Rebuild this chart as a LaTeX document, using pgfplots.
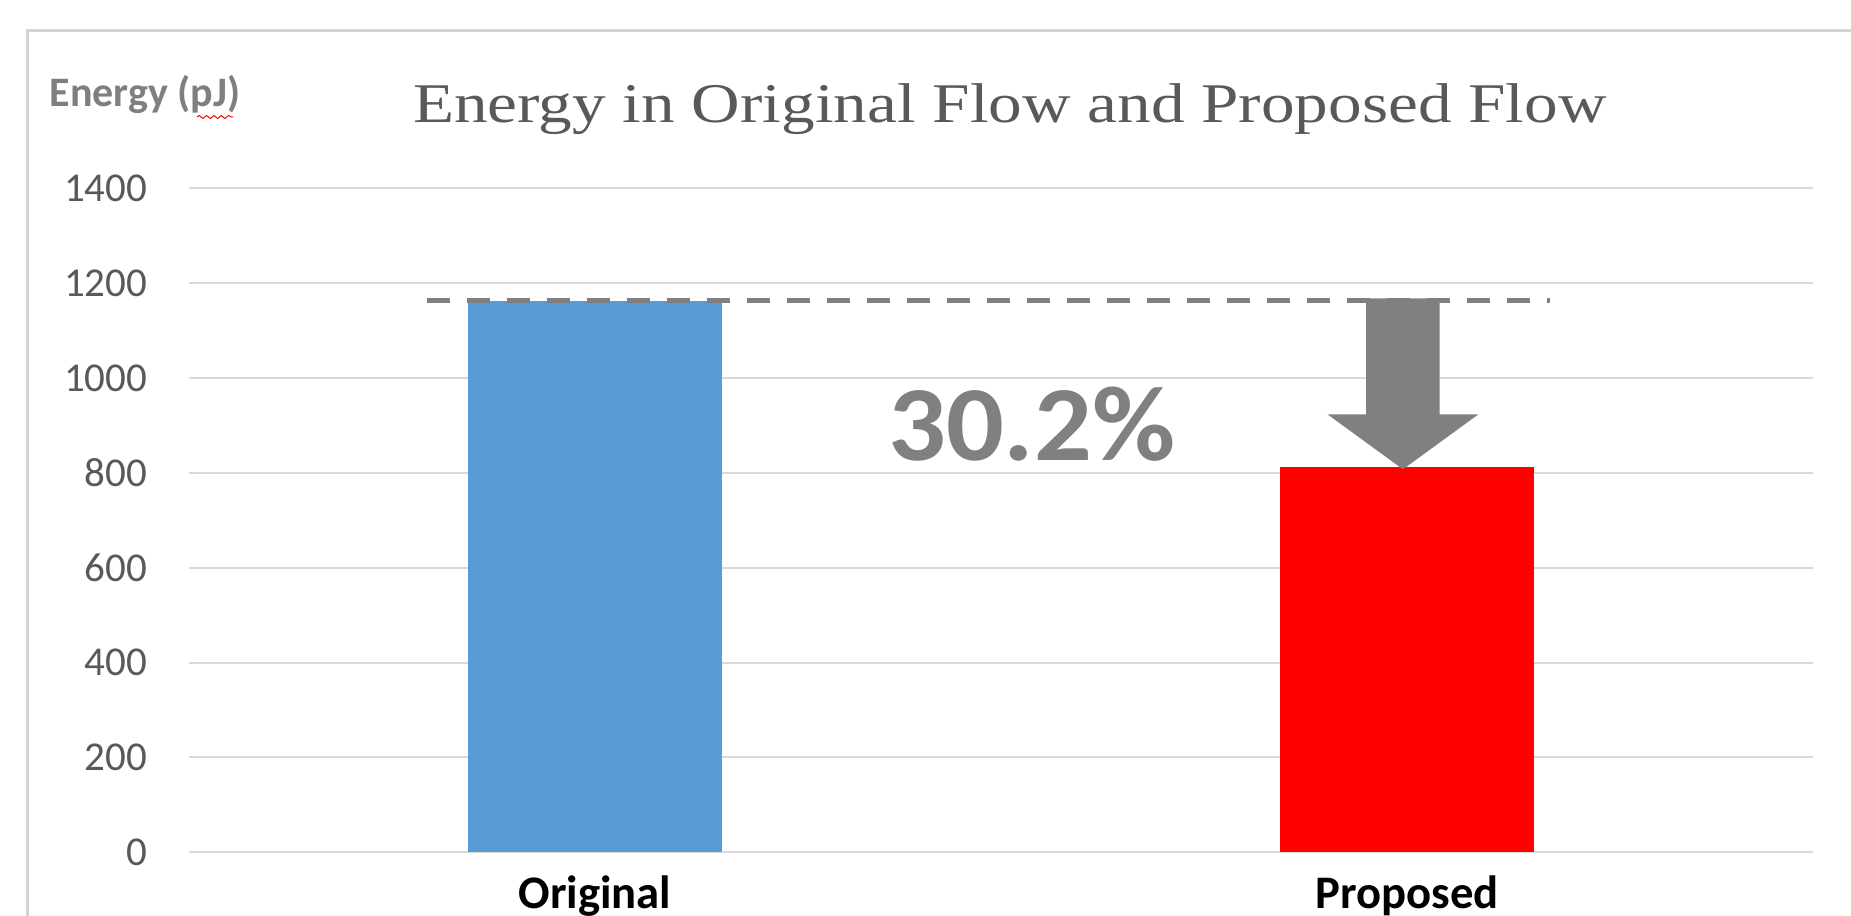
\documentclass[border=0pt]{standalone}
\usepackage{pgfplots}
\pgfplotsset{compat=1.18}
\usepackage{fontspec}
\setmainfont{Carlito}
\newfontfamily\titlefont{Liberation Serif}
\usetikzlibrary{decorations.pathmorphing}
\definecolor{barblue}{HTML}{5B9BD5}
\definecolor{barred}{HTML}{FF0000}
\definecolor{annogray}{HTML}{808080}
\definecolor{labgray}{HTML}{595959}
\definecolor{ylabgray}{HTML}{7F7F7F}
\definecolor{gridgray}{HTML}{D9D9D9}
\definecolor{framegray}{HTML}{D4D4D4}
\begin{document}
\begin{tikzpicture}
\useasboundingbox (0pt,0pt) rectangle (555.3pt,274.8pt);
\clip (0pt,0pt) rectangle (555.3pt,274.8pt);
\fill[white] (0pt,0pt) rectangle (555.3pt,274.8pt);
% outer chart frame
\draw[framegray, line width=0.9pt] (8.1pt,-6pt) -- (8.1pt,265.5pt) -- (570pt,265.5pt);
% title
\node[anchor=base, inner sep=0pt, text=labgray] at (303pt,237.9pt)
  {\scalebox{1.2}[1]{\titlefont\fontsize{16.8}{20}\selectfont Energy in Original Flow and Proposed Flow}};
% y label
\node[anchor=base west, inner sep=0pt, text=ylabgray] at (14.7pt,242.7pt)
  {\fontsize{12.6}{15}\selectfont\bfseries Energy (pJ)};
\draw[red, line width=0.3pt, decorate, decoration={snake, segment length=2.2pt, amplitude=0.45pt}] (59.1pt,239.7pt) -- (69.9pt,239.7pt);
\begin{axis}[
  at={(56.7pt,19.11pt)}, anchor=south west,
  scale only axis, width=487.2pt, height=199.2pt,
  xmin=-0.5, xmax=1.5, ymin=0, ymax=1400,
  xtick={0,1}, xticklabels={Original,Proposed},
  ytick={0,200,400,600,800,1000,1200,1400},
  ymajorgrids, grid style={draw=gridgray, line width=0.6pt},
  axis line style={draw=none},
  major tick length=0pt,
  /pgf/number format/assume math mode=true,
  /pgf/number format/1000 sep={},
  yticklabel style={inner sep=0pt, anchor=east, xshift=-12.3pt, text=labgray, font=\fontsize{12.3}{14}\selectfont},
  xticklabel style={inner sep=0pt, anchor=north, yshift=-6.9pt, text=black, font=\fontsize{14}{16}\selectfont\bfseries},
  clip=false,
]
\addplot[ybar, bar width=0.314, bar shift=0pt, fill=barblue, draw=none] coordinates {(0,1163)};
\addplot[ybar, bar width=0.314, bar shift=0pt, fill=barred, draw=none] coordinates {(1,812)};
\draw[annogray, line width=1.5pt, dash pattern=on 6.9pt off 5.1pt] (axis cs:-0.2073,1163) -- (axis cs:1.176,1163);
\fill[annogray] (axis cs:0.9497,1168) -- (axis cs:1.0403,1168) -- (axis cs:1.0403,923.5) -- (axis cs:1.088,923.5)
  -- (axis cs:0.995,807.5) -- (axis cs:0.902,923.5) -- (axis cs:0.9497,923.5) -- cycle;
\node[inner sep=0pt, text=annogray] at (axis cs:0.538,903) {\scalebox{1.07}[1]{\fontsize{32}{36}\selectfont\bfseries 30.2\%}};
\end{axis}
\end{tikzpicture}
\end{document}
